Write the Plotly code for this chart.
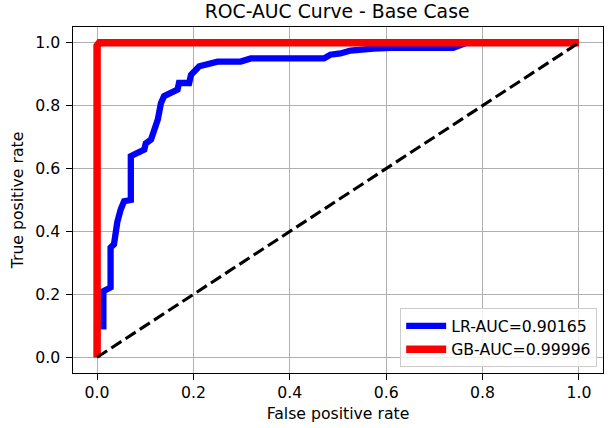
import plotly.graph_objects as go

lr_fpr = [0, 0, 0.013, 0.013, 0.028, 0.028, 0.035, 0.037, 0.042, 0.049, 0.056, 0.07, 0.07,
          0.084, 0.098, 0.101, 0.112, 0.119, 0.126, 0.1325, 0.139, 0.167, 0.17, 0.191, 0.195,
          0.212, 0.229, 0.25, 0.298, 0.319, 0.471, 0.484, 0.505, 0.526, 0.574, 0.609, 0.739,
          0.767, 1.0]
lr_tpr = [0, 0.098, 0.098, 0.21, 0.222, 0.349, 0.359, 0.397, 0.43, 0.47, 0.496, 0.5, 0.639,
          0.65, 0.66, 0.68, 0.692, 0.724, 0.756, 0.808, 0.83, 0.851, 0.872, 0.872, 0.898,
          0.925, 0.93, 0.94, 0.94, 0.95, 0.95, 0.962, 0.966, 0.975, 0.981, 0.984, 0.984,
          1.0, 1.0]
gb_fpr = [0, 0, 0.005, 1.0]
gb_tpr = [0, 0.99, 1.0, 1.0]
diag = [0, 1]
lr_label = "LR-AUC=0.90165"
gb_label = "GB-AUC=0.99996"
ticks = [0.0, 0.2, 0.4, 0.6, 0.8, 1.0]

FS = 15.7

fig = go.Figure()
fig.add_trace(go.Scatter(x=lr_fpr, y=lr_tpr, mode="lines", name=lr_label,
                         line=dict(color="blue", width=6.3)))
fig.add_trace(go.Scatter(x=gb_fpr, y=gb_tpr, mode="lines", name=gb_label,
                         line=dict(color="red", width=7.5)))
fig.add_trace(go.Scatter(x=diag, y=diag, mode="lines", showlegend=False,
                         line=dict(color="black", width=3.1, dash="12px,5px")))

axis_common = dict(
    tickvals=ticks, ticktext=[f"{t:.1f}" for t in ticks],
    showgrid=True, gridcolor="#b0b0b0", gridwidth=1.2,
    zeroline=False, showline=True, linecolor="black", linewidth=1.2, mirror=True,
    ticks="outside", ticklen=5.5, tickwidth=1.2, tickcolor="black",
    tickfont=dict(size=FS, color="black"), automargin=False,
)
fig.update_xaxes(range=[-0.05, 1.05],
                 title=dict(text="False positive rate", font=dict(size=FS, color="black"), standoff=6),
                 **axis_common)
fig.update_yaxes(range=[-0.05, 1.05],
                 title=dict(text="True positive rate", font=dict(size=FS, color="black"), standoff=7),
                 ticklabelstandoff=3, **axis_common)

fig.update_layout(
    width=614, height=428,
    margin=dict(l=73, r=11, t=27, b=55),
    paper_bgcolor="white", plot_bgcolor="white",
    font=dict(family="DejaVu Sans", color="black"),
    title=dict(text="ROC-AUC Curve - Base Case", x=0.549, xanchor="center", y=0.974, yanchor="middle",
               font=dict(size=18.8, color="black")),
    legend=dict(x=0.989, y=0.017, xanchor="right", yanchor="bottom",
                bgcolor="rgba(255,255,255,0.8)", bordercolor="#cccccc", borderwidth=1,
                font=dict(size=FS, color="black"), itemwidth=40, tracegroupgap=0),
)

fig.write_html("out.html", config={"displayModeBar": False},
               post_script="document.body.style.margin='0';document.body.style.padding='0';")
